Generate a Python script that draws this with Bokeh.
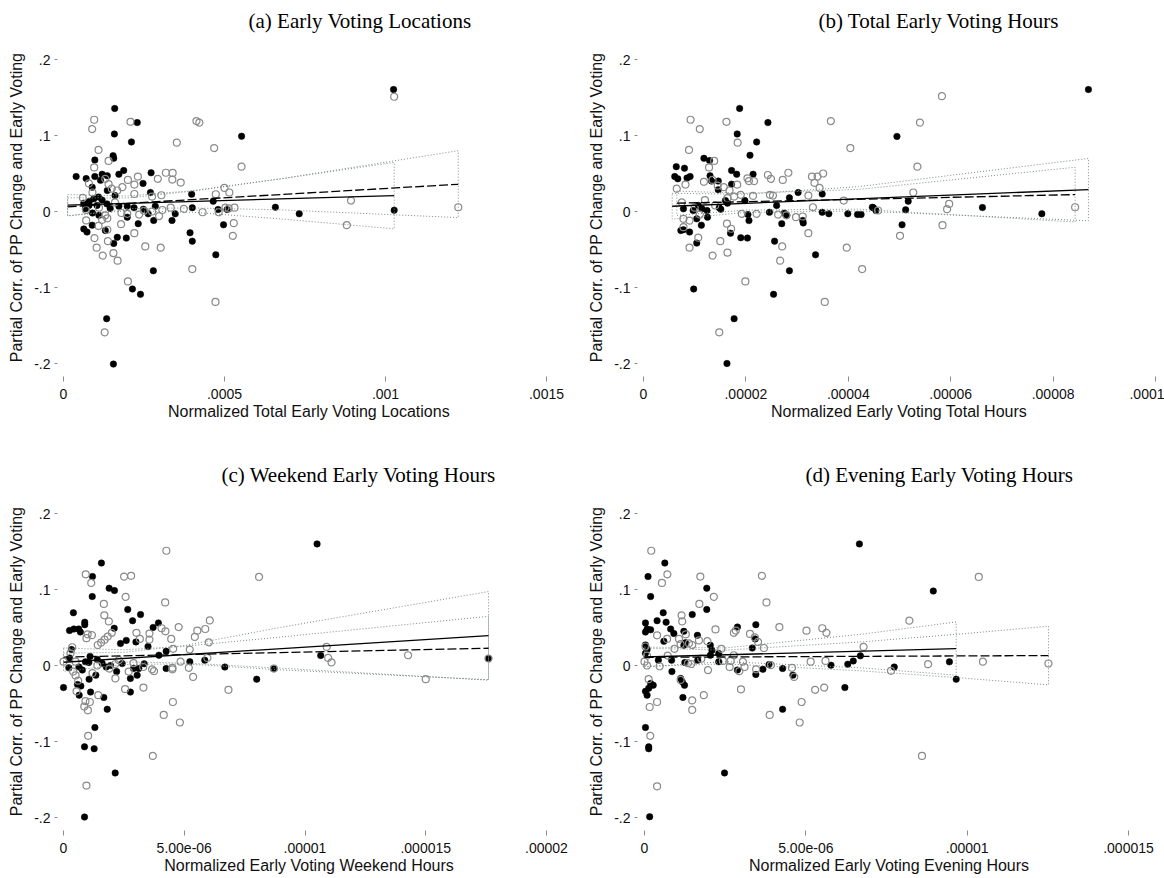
from bokeh.plotting import figure
from bokeh.layouts import column, row
from bokeh.models import FixedTicker, Range1d
from bokeh.embed import file_html
from bokeh.resources import INLINE

# ---------------- shared axis data ----------------
y_ticks = [-0.2, -0.1, 0.0, 0.1, 0.2]
y_tick_labels = ["-.2", "-.1", "0", ".1", ".2"]
y_title = "Partial Corr. of PP Change and Early Voting"

# ---------------- (a) Early Voting Locations ----------------
a_title = "(a) Early Voting Locations"
a_xlabel = "Normalized Total Early Voting Locations"
a_x_ticks = [0.0, 0.0005, 0.001, 0.0015]
a_x_tick_labels = ["0", ".0005", ".001", ".0015"]
a_black = [
    (0.000159, 0.1356), (0.000229, 0.117), (0.000158, 0.102), (0.000211, 0.0915),
    (0.000553, 0.099), (0.0000973, 0.0678), (0.000154, 0.0735), (0.000156, 0.070),
    (0.0000393, 0.046), (0.0000704, 0.0433), (0.0000973, 0.046), (0.0000891, 0.032),
    (0.000120, 0.049), (0.000136, 0.047), (0.000115, 0.041), (0.000172, 0.049),
    (0.000187, 0.054), (0.000247, 0.037), (0.000272, 0.051), (0.00027, 0.025),
    (0.000136, 0.0276), (0.000109, 0.019), (0.000094, 0.0167), (0.000398, 0.0227),
    (0.0004, 0.005), (0.000465, 0.0135), (0.00048, 0.0026), (0.000508, 0.0026),
    (0.000658, 0.0056), (0.000732, -0.003), (0.000063, 0.011), (0.000068, 0.0035),
    (0.000079, 0.0079), (0.000104, 0.008), (0.000135, 0.010), (0.000172, 0.007),
    (0.000198, 0.007), (0.000219, 0.005), (0.000248, 0.003), (0.000263, -0.003),
    (0.000285, 0.007), (0.00028, -0.0118), (0.000337, -0.0118), (0.000347, -0.003),
    (0.000198, -0.0075), (0.000232, -0.016), (0.0000891, -0.018), (0.000063, -0.023),
    (0.000073, -0.027), (0.00013, -0.025), (0.000167, -0.034), (0.000195, -0.035),
    (0.000156, -0.042), (0.000393, -0.028), (0.0004, -0.039), (0.000497, -0.0175),
    (0.000473, -0.057), (0.000279, -0.078), (0.000214, -0.102), (0.000239, -0.109),
    (0.000134, -0.141), (0.000155, -0.2008), (0.001025, 0.1605), (0.001027, 0.0017),
    (0.00008, 0.013), (0.00012, 0.015), (0.000145, 0.004), (0.00011, -0.005),
    (0.00009, -0.002), (0.00016, 0.021),
]
a_gray = [
    (0.0000953, 0.1207), (0.0000891, 0.1085), (0.000208, 0.118), (0.000413, 0.119),
    (0.000422, 0.117), (0.000352, 0.0906), (0.000468, 0.0835), (0.000109, 0.081),
    (0.00014, 0.0665), (0.000553, 0.059), (0.0000953, 0.058), (0.000231, 0.046),
    (0.000318, 0.051), (0.000339, 0.0508), (0.000338, 0.042), (0.000364, 0.038),
    (0.000293, 0.043), (0.0002, 0.0416), (0.000079, 0.037), (0.00013, 0.043),
    (0.00014, 0.036), (0.00015, 0.030), (0.000167, 0.0276), (0.000183, 0.032),
    (0.00022, 0.0354), (0.00022, 0.023), (0.000275, 0.0197), (0.000304, 0.0214),
    (0.0005, 0.031), (0.000515, 0.025), (0.000473, 0.0227), (0.000333, 0.005),
    (0.000374, 0.0035), (0.000503, 0.005), (0.000513, 0.004), (0.000531, 0.005),
    (0.000432, -0.001), (0.000482, -0.001), (0.000529, -0.0153), (0.000526, -0.032),
    (0.0000704, -0.0118), (0.00013, -0.005), (0.000136, -0.009), (0.000179, -0.0167),
    (0.000136, -0.024), (0.000109, -0.019), (0.00022, -0.0285), (0.0000963, -0.035),
    (0.000138, -0.039), (0.000103, -0.0476), (0.000122, -0.058), (0.000155, -0.0547),
    (0.000168, -0.0647), (0.000254, -0.046), (0.000302, -0.0476), (0.0004, -0.0757),
    (0.000472, -0.119), (0.0002, -0.092), (0.000128, -0.159), (0.000198, -0.003),
    (0.000235, -0.004), (0.00025, 0.001), (0.000275, 0.0), (0.000297, -0.006),
    (0.000307, 0.002), (0.001027, 0.151), (0.000893, 0.0144), (0.00088, -0.018),
    (0.001226, 0.0056), (0.00006, 0.018), (0.00007, 0.002), (0.00009, 0.025),
    (0.00011, 0.005), (0.00016, 0.012), (0.00018, -0.002), (0.00012, -0.011),
]
a_fit_black_x = [0.000013, 0.001027]
a_fit_black_y = [0.0084, 0.0209]
a_ci_black_x = [0.000013, 0.0002, 0.0004, 0.000674, 0.001027]
a_ci_black_hi = [0.0222, 0.0204, 0.0274, 0.0429, 0.0646]
a_ci_black_lo = [-0.0054, 0.0010, -0.0010, -0.0097, -0.0228]
a_fit_gray_x = [0.000013, 0.001226]
a_fit_gray_y = [0.0062, 0.0358]
a_ci_gray_x = [0.000013, 0.0002, 0.0004, 0.000674, 0.001226]
a_ci_gray_hi = [0.018, 0.0178, 0.0267, 0.043, 0.080]
a_ci_gray_lo = [-0.006, 0.0038, 0.0047, 0.0022, -0.008]

# ---------------- (b) Total Early Voting Hours ----------------
b_title = "(b) Total Early Voting Hours"
b_xlabel = "Normalized Early Voting Total Hours"
b_x_ticks = [0.0, 0.00002, 0.00004, 0.00006, 0.00008, 0.0001]
b_x_tick_labels = ["0", ".00002", ".00004", ".00006", ".00008", ".0001"]
b_black = [
    (1.877e-5, 0.1356), (2.43e-5, 0.117), (1.83e-5, 0.102), (2.21e-5, 0.0915),
    (2.08e-5, 0.074), (1.18e-5, 0.07), (1.29e-5, 0.067), (6.4e-6, 0.059),
    (8.0e-6, 0.057), (6.1e-6, 0.046), (6.7e-6, 0.043), (9.1e-6, 0.046),
    (8.5e-6, 0.044), (1.30e-5, 0.047), (1.46e-5, 0.040), (1.33e-5, 0.040),
    (1.72e-5, 0.054), (1.82e-5, 0.049), (1.72e-5, 0.036), (2.14e-5, 0.049),
    (1.46e-5, 0.0285), (1.98e-5, 0.0144), (1.6e-5, 0.0144), (1.64e-5, 0.011),
    (3.02e-5, 0.025), (3.49e-5, 0.023), (2.85e-5, 0.018), (2.6e-5, 0.0079),
    (3.49e-5, -0.001), (3.62e-5, -0.003), (3.99e-5, -0.003), (4.18e-5, -0.004),
    (4.25e-5, -0.004), (4.49e-5, 0.005), (1.07e-5, 0.008), (1.14e-5, 0.0035),
    (1.24e-5, 0.0013), (1.48e-5, 0.005), (1.51e-5, 0.003), (7.8e-6, 0.0035),
    (9.7e-6, 0.0013), (2.46e-5, -0.001), (2.75e-5, -0.0022), (2.8e-5, -0.005),
    (2.04e-5, -0.004), (2.06e-5, -0.012), (1.25e-5, -0.0075), (1.13e-5, -0.018),
    (1.04e-5, -0.0096), (3.11e-5, -0.0118), (3.12e-5, -0.015), (2.7e-5, -0.016),
    (7.3e-6, -0.025), (7.8e-6, -0.024), (9.0e-6, -0.027), (1.7e-5, -0.0285),
    (1.9e-5, -0.0345), (2.03e-5, -0.035), (1.04e-5, -0.0416), (2.56e-5, -0.039),
    (3.36e-5, -0.057), (2.85e-5, -0.078), (9.8e-6, -0.102), (2.54e-5, -0.109),
    (1.77e-5, -0.141), (1.63e-5, -0.2), (8.69e-5, 0.1605), (4.95e-5, 0.0988),
    (5.17e-5, 0.0135), (4.47e-5, 0.0056), (4.54e-5, 0.0013), (5.12e-5, 0.0022),
    (5.05e-5, -0.0175), (6.62e-5, 0.0052), (7.78e-5, -0.003),
]
b_gray = [
    (9.2e-6, 0.1207), (1.1e-5, 0.1085), (1.62e-5, 0.118), (3.66e-5, 0.119),
    (4.04e-5, 0.0835), (1.84e-5, 0.0906), (8.9e-6, 0.081), (1.38e-5, 0.0665),
    (1.28e-5, 0.058), (8.2e-6, 0.0354), (1.18e-5, 0.039), (1.35e-5, 0.0416),
    (1.45e-5, 0.034), (1.57e-5, 0.032), (1.68e-5, 0.0276), (1.83e-5, 0.0354),
    (2.03e-5, 0.0437), (2.06e-5, 0.040), (2.16e-5, 0.040), (2.43e-5, 0.048),
    (2.49e-5, 0.043), (2.72e-5, 0.0416), (2.83e-5, 0.051), (3.29e-5, 0.046),
    (3.40e-5, 0.046), (3.51e-5, 0.050), (3.34e-5, 0.0377), (3.44e-5, 0.031),
    (3.22e-5, 0.021), (3.91e-5, 0.0144), (1.90e-5, 0.022), (1.77e-5, 0.0197),
    (1.64e-5, 0.0175), (2.14e-5, 0.0206), (2.47e-5, 0.022), (2.53e-5, 0.021),
    (3.31e-5, 0.0056), (2.63e-5, -0.004), (2.79e-5, -0.005), (2.98e-5, -0.0075),
    (3.11e-5, -0.0066), (1.92e-5, -0.003), (2.21e-5, -0.003), (7.8e-6, -0.0096),
    (9.0e-6, -0.012), (7.8e-6, -0.0206), (1.07e-5, -0.0345), (9.0e-6, -0.0476),
    (1.5e-5, -0.039), (1.64e-5, -0.054), (1.35e-5, -0.058), (1.63e-5, -0.016),
    (1.71e-5, -0.0227), (2.71e-5, -0.046), (2.67e-5, -0.0647), (3.22e-5, -0.0285),
    (3.97e-5, -0.0476), (4.27e-5, -0.0757), (1.99e-5, -0.092), (3.54e-5, -0.119),
    (1.48e-5, -0.159), (5.83e-5, 0.1518), (5.4e-5, 0.117), (5.35e-5, 0.059),
    (5.27e-5, 0.025), (5.97e-5, 0.010), (5.93e-5, 0.003), (5.84e-5, -0.018),
    (5.01e-5, -0.032), (4.58e-5, 0.0013), (8.43e-5, 0.0056), (6.5e-6, 0.03),
    (7.5e-6, 0.012), (1.0e-5, 0.005), (1.2e-5, 0.015), (1.4e-5, 0.008),
    (1.1e-5, -0.004),
]
b_fit_black_x = [5.6e-6, 8.69e-5]
b_fit_black_y = [0.0069, 0.0288]
b_ci_black_x = [5.6e-6, 2e-5, 4.2e-5, 8.69e-5]
b_ci_black_hi = [0.0239, 0.0228, 0.0327, 0.0698]
b_ci_black_lo = [-0.0101, -0.0012, 0.0007, -0.0122]
b_fit_gray_x = [6.5e-6, 8.43e-5]
b_fit_gray_y = [0.0109, 0.0222]
b_ci_gray_x = [6.5e-6, 2e-5, 4.2e-5, 8.43e-5]
b_ci_gray_hi = [0.0269, 0.0239, 0.0291, 0.0582]
b_ci_gray_lo = [-0.0051, 0.0019, 0.0031, -0.0138]

# ---------------- (c) Weekend Early Voting Hours ----------------
c_title = "(c) Weekend Early Voting Hours"
c_xlabel = "Normalized Early Voting Weekend Hours"
c_x_ticks = [0.0, 0.000005, 0.00001, 0.000015, 0.00002]
c_x_tick_labels = ["0", "5.00e-06", ".00001", ".000015", ".00002"]
c_black = [
    (1.57e-6, 0.1348), (1.2e-6, 0.117), (1.89e-6, 0.1017), (2.11e-6, 0.0986),
    (1.19e-6, 0.0907), (2.66e-6, 0.0737), (2.86e-6, 0.0589), (3.19e-6, 0.067),
    (4.1e-7, 0.0694), (8.8e-7, 0.057), (8.8e-7, 0.0537), (2.5e-7, 0.046),
    (4.3e-7, 0.048), (6.3e-7, 0.048), (7.0e-7, 0.044), (2.1e-6, 0.049),
    (3.71e-6, 0.050), (3.93e-6, 0.056), (4.25e-6, 0.0187), (2.36e-6, 0.029),
    (2.6e-6, 0.033), (3.0e-6, 0.031), (3.5e-6, 0.025), (3.95e-6, 0.0135),
    (3.3e-7, 0.021), (9.1e-7, 0.0048), (1.05e-6, 0.004), (2.2e-7, -0.003),
    (6.4e-7, -0.002), (7.8e-7, -0.006), (1.77e-6, -0.002), (1.95e-6, 0.0),
    (2.43e-6, 0.0026), (2.9e-6, -0.004), (3.12e-6, -0.004), (3.34e-6, 0.0022),
    (4.25e-6, -0.004), (5.23e-6, 0.005), (5.85e-6, 0.007), (6.68e-6, -0.002),
    (8.0e-6, -0.018), (0.0, -0.029), (5.8e-7, -0.025), (7.2e-7, -0.027),
    (1.06e-6, -0.018), (1.34e-6, -0.0127), (2.2e-6, -0.008), (2.77e-6, -0.017),
    (3.05e-6, -0.0127), (1.12e-6, -0.035), (1.67e-6, -0.042), (6.5e-7, -0.039),
    (2.77e-6, -0.035), (1.81e-6, -0.0576), (1.3e-6, -0.0816), (8.7e-7, -0.107),
    (1.27e-6, -0.1095), (2.14e-6, -0.1414), (8.7e-7, -0.1994), (1.05e-5, 0.160),
    (1.065e-5, 0.0131), (1.76e-5, 0.0092), (8.71e-6, -0.004), (1.4e-6, 0.008),
    (1.1e-6, 0.012), (1.6e-6, 0.003), (2.5e-7, 0.01),
]
c_gray = [
    (4.26e-6, 0.151), (8.1e-6, 0.1165), (9.2e-7, 0.120), (1.15e-6, 0.1086),
    (2.51e-6, 0.117), (2.8e-6, 0.118), (2.57e-6, 0.0903), (4.21e-6, 0.083),
    (1.67e-6, 0.081), (1.69e-6, 0.066), (1.88e-6, 0.058), (6.06e-6, 0.0593),
    (5.87e-6, 0.048), (5.54e-6, 0.0458), (5.44e-6, 0.0376), (4.77e-6, 0.0506),
    (4.06e-6, 0.049), (4.22e-6, 0.045), (4.46e-6, 0.035), (6.02e-6, 0.0305),
    (4.54e-6, 0.022), (5.23e-6, 0.021), (3.02e-6, 0.043), (3.16e-6, 0.035),
    (3.56e-6, 0.042), (3.56e-6, 0.034), (2.0e-6, 0.043), (1.83e-6, 0.038),
    (1.7e-6, 0.034), (1.56e-6, 0.030), (1.42e-6, 0.027), (1.18e-6, 0.040),
    (1.0e-6, 0.041), (9.5e-7, 0.036), (5.96e-6, 0.010), (4.85e-6, 0.005),
    (4.51e-6, -0.003), (4.51e-6, -0.005), (5.19e-6, -0.003), (3.67e-6, -0.005),
    (3.75e-6, -0.0075), (5.37e-6, -0.015), (6.83e-6, -0.032), (3.31e-6, -0.029),
    (2.55e-6, -0.031), (2.15e-6, -0.017), (2.7e-6, -0.008), (4.53e-6, -0.048),
    (4.15e-6, -0.065), (4.82e-6, -0.075), (1.44e-6, -0.039), (9.1e-7, -0.047),
    (1.09e-6, -0.048), (8.6e-7, -0.054), (1.01e-6, -0.059), (5.4e-7, -0.034),
    (6.1e-7, -0.020), (1.02e-6, -0.0925), (3.7e-6, -0.119), (9.5e-7, -0.158),
    (0.0, 0.005), (2.9e-7, 0.016), (3.6e-7, 0.024), (5e-7, 0.005),
    (4e-7, -0.008), (5e-7, -0.013), (1.2e-6, -0.01), (1.4e-6, 0.0),
    (1.9e-6, -0.004), (2.15e-6, 0.002), (2.3e-6, 0.007), (2.9e-6, 0.003),
    (3.3e-6, -0.002), (8.71e-6, -0.004), (1.09e-5, 0.0245), (1.096e-5, 0.010),
    (1.11e-5, 0.004), (1.427e-5, 0.0135), (1.5e-5, -0.018), (1.76e-5, 0.0092),
]
c_fit_black_x = [0.0, 1.76e-5]
c_fit_black_y = [0.0043, 0.0393]
c_ci_black_x = [0.0, 2.5e-6, 5e-6, 9e-6, 1.76e-5]
c_ci_black_hi = [0.0163, 0.0173, 0.0262, 0.0502, 0.0973]
c_ci_black_lo = [-0.0077, 0.0013, 0.0022, -0.0058, -0.0187]
c_fit_gray_x = [0.0, 1.76e-5]
c_fit_gray_y = [0.011, 0.0227]
c_ci_gray_x = [0.0, 2.5e-6, 5e-6, 9e-6, 1.76e-5]
c_ci_gray_hi = [0.023, 0.0207, 0.0253, 0.0375, 0.0647]
c_ci_gray_lo = [-0.001, 0.0047, 0.0033, -0.0035, -0.0193]

# ---------------- (d) Evening Early Voting Hours ----------------
d_title = "(d) Evening Early Voting Hours"
d_xlabel = "Normalized Early Voting Evening Hours"
d_x_ticks = [0.0, 0.000005, 0.00001, 0.000015]
d_x_tick_labels = ["0", "5.00e-06", ".00001", ".000015"]
d_black = [
    (6.66e-6, 0.160), (6.3e-7, 0.1348), (1.1e-7, 0.117), (1.93e-6, 0.1017),
    (1.9e-7, 0.0907), (1.93e-6, 0.0737), (5.8e-7, 0.0694), (1.48e-6, 0.067),
    (3.9e-7, 0.059), (6.7e-7, 0.057), (3e-8, 0.056), (8e-8, 0.048),
    (1.9e-7, 0.047), (3e-8, 0.044), (8.1e-7, 0.048), (9.1e-7, 0.042),
    (1.22e-6, 0.045), (1.22e-6, 0.0266), (1.27e-6, 0.030), (1.64e-6, 0.0397),
    (6.0e-7, 0.0318), (3e-8, 0.027), (8e-8, 0.021), (3e-8, 0.016),
    (2.88e-6, 0.0506), (3.45e-6, 0.0537), (3.43e-6, 0.035), (3.34e-6, 0.023),
    (2.04e-6, 0.0266), (2.09e-6, 0.020), (2.3e-6, 0.0157), (2.04e-6, 0.0135),
    (4.3e-7, 0.007), (8.4e-7, 0.007), (1.25e-6, 0.004), (1.65e-6, 0.007),
    (2.3e-6, 0.005), (3.86e-6, 0.0013), (3.67e-6, -0.005), (3.45e-6, -0.0118),
    (4.28e-6, -0.004), (4.6e-6, -0.0127), (2.88e-6, -0.006), (5.78e-6, 0.0004),
    (6.3e-6, 0.0017), (6.47e-6, 0.006), (6.69e-6, 0.0127), (6.21e-6, -0.029),
    (4.28e-6, -0.0576), (8.5e-7, -0.008), (1.12e-6, -0.017), (1.17e-6, -0.0214),
    (1.24e-6, -0.026), (1.9e-7, -0.0236), (2.7e-7, -0.026), (1.3e-7, -0.030),
    (3e-8, -0.034), (8e-8, -0.039), (1.19e-6, -0.042), (3e-8, -0.0816),
    (1.3e-7, -0.107), (1.3e-7, -0.1095), (2.48e-6, -0.1414), (1.6e-7, -0.199),
    (8.95e-6, 0.098), (7.74e-6, -0.002), (9.45e-6, 0.0048), (9.66e-6, -0.018),
]
d_gray = [
    (2.1e-7, 0.151), (7.1e-7, 0.120), (5.4e-7, 0.1086), (1.73e-6, 0.117),
    (3.64e-6, 0.118), (2.15e-6, 0.0903), (3.78e-6, 0.083), (1.7e-6, 0.081),
    (1.15e-6, 0.066), (1.17e-6, 0.058), (2.2e-6, 0.0475), (3.9e-7, 0.0397),
    (7.0e-7, 0.035), (1.28e-6, 0.041), (1.07e-6, 0.035), (1.12e-6, 0.028),
    (1.38e-6, 0.029), (1.48e-6, 0.027), (1.69e-6, 0.033), (1.95e-6, 0.032),
    (2.77e-6, 0.043), (2.83e-6, 0.046), (3.27e-6, 0.0415), (3.42e-6, 0.037),
    (3.52e-6, 0.031), (3.7e-6, 0.023), (4.18e-6, 0.0506), (5.02e-6, 0.0458),
    (5.51e-6, 0.049), (5.64e-6, 0.043), (6.79e-6, 0.0245), (5.15e-6, 0.005),
    (5.61e-6, 0.006), (2.77e-6, 0.0135), (3.05e-6, 0.005), (2.64e-6, -0.002),
    (2.94e-6, -0.0075), (3.46e-6, -0.005), (4.57e-6, -0.003), (4.64e-6, -0.015),
    (3.92e-6, 0.0004), (5.29e-6, -0.032), (5.57e-6, -0.029), (4.87e-6, -0.048),
    (3.88e-6, -0.065), (4.81e-6, -0.075), (2.99e-6, -0.0314), (1.84e-6, -0.039),
    (1.48e-6, -0.046), (1.48e-6, -0.0585), (1.12e-6, -0.019), (3.9e-7, -0.048),
    (1.6e-7, -0.0546), (1.8e-7, -0.0925), (3.9e-7, -0.159), (1.3e-7, -0.018),
    (0.0, 0.005), (8e-8, 0.0), (3e-8, 0.025), (8e-8, 0.013),
    (4.7e-7, -0.001), (7.2e-7, 0.013), (9.3e-7, 0.022), (1.35e-6, 0.003),
    (1.45e-6, 0.002), (1.76e-6, 0.009), (1.97e-6, -0.006), (2.38e-6, 0.022),
    (2.43e-6, 0.006), (2.67e-6, 0.006), (3.1e-6, -0.002), (8.21e-6, 0.059),
    (8.79e-6, 0.0017), (7.64e-6, -0.007), (1.049e-5, 0.005), (1.252e-5, 0.0026),
    (1.036e-5, 0.1165), (8.6e-6, -0.119),
]
d_fit_black_x = [0.0, 9.66e-6]
d_fit_black_y = [0.0112, 0.0223]
d_ci_black_x = [0.0, 2.5e-6, 6.7e-6, 9.66e-6]
d_ci_black_hi = [0.0242, 0.0231, 0.041, 0.0573]
d_ci_black_lo = [-0.0018, 0.0051, -0.003, -0.0127]
d_fit_gray_x = [0.0, 1.252e-5]
d_fit_gray_y = [0.0108, 0.0131]
d_ci_gray_x = [0.0, 2.5e-6, 6.7e-6, 9.84e-6, 1.252e-5]
d_ci_gray_hi = [0.0228, 0.0202, 0.031, 0.0416, 0.0517]
d_ci_gray_lo = [-0.0012, 0.0022, -0.007, -0.0164, -0.0255]


# ---------------- drawing ----------------
SANS = "Liberation Sans"
SERIF = "Liberation Serif"
GRAY = "#8a8a8a"
FRAME_TOP, FRAME_BOTTOM, FRAME_LEFT = 38, 376, 57


def span(v0, p0, v1, p1, lo_px, hi_px):
    """Value range covered by pixels lo_px..hi_px given two anchor ticks."""
    k = (v1 - v0) / (p1 - p0)
    return v0 + (lo_px - p0) * k, v0 + (hi_px - p0) * k


def panel(title, title_offset, xlabel, xt, xtl, x_px, black, gray, fits,
          width, height, right_border):
    frame_right = width - right_border
    x0, x1 = span(xt[0], x_px[0], xt[-1], x_px[1], FRAME_LEFT, frame_right)
    ytop, ybot = span(0.2, 59, -0.2, 363, FRAME_TOP, FRAME_BOTTOM)

    p = figure(width=width, height=height, output_backend="svg",
               toolbar_location=None, x_range=Range1d(x0, x1),
               y_range=Range1d(ybot, ytop), title=title,
               min_border_left=FRAME_LEFT, min_border_right=right_border,
               min_border_top=FRAME_TOP,
               min_border_bottom=height - FRAME_BOTTOM)
    p.outline_line_color = None
    p.grid.visible = False
    p.background_fill_color = "white"
    p.border_fill_color = "white"

    # panel caption
    p.title.align = "left"
    p.title.offset = title_offset
    p.title.standoff = 12
    p.title.text_font = SERIF
    p.title.text_font_size = "21px"
    p.title.text_font_style = "normal"
    p.title.text_color = "black"

    # axes
    p.xaxis.ticker = FixedTicker(ticks=xt)
    p.xaxis.major_label_overrides = dict(zip(xt, xtl))
    p.yaxis.ticker = FixedTicker(ticks=y_ticks)
    p.yaxis.major_label_overrides = dict(zip(y_ticks, y_tick_labels))
    for ax in (p.xaxis, p.yaxis):
        ax.axis_line_color = None
        ax.minor_tick_line_color = None
        ax.major_tick_line_color = "#8c8c8c"
        ax.major_tick_in = 0
        ax.major_label_text_font = SANS
        ax.major_label_text_font_size = "14px"
        ax.major_label_text_color = "#111111"
        ax.axis_label_text_font = SANS
        ax.axis_label_text_font_size = "16px"
        ax.axis_label_text_font_style = "normal"
        ax.axis_label_text_color = "#111111"
    p.xaxis.major_tick_out = 5
    p.xaxis.major_label_standoff = 7
    p.xaxis.axis_label_standoff = 1
    p.xaxis.axis_label = xlabel
    p.yaxis.major_tick_out = 3
    p.yaxis.major_label_standoff = 4
    p.yaxis.axis_label_standoff = 6
    p.yaxis.axis_label = y_title

    # scatter
    bx, by = zip(*black)
    gx, gy = zip(*gray)
    p.scatter(list(bx), list(by), size=6.5, fill_color="black",
              line_color="black", line_width=0.5)
    p.scatter(list(gx), list(gy), size=7, fill_color=None,
              line_color=GRAY, line_width=1.2)

    # confidence bands and fitted lines
    for (fx, fy, cx, chi, clo, dash) in fits:
        p.patch(list(cx) + list(cx)[::-1], list(chi) + list(clo)[::-1],
                fill_alpha=0, line_color="#7d8a8a", line_width=1,
                line_dash="1 2")
    for (fx, fy, cx, chi, clo, dash) in fits:
        p.line(fx, fy, line_color="black", line_width=1.3, line_dash=dash)
    return p


TOP_H, BOT_H = 454, 424
LEFT_W, RIGHT_W = 580, 584

pa = panel(a_title, 191, a_xlabel, a_x_ticks, a_x_tick_labels, (63, 546),
           a_black, a_gray,
           [(a_fit_black_x, a_fit_black_y, a_ci_black_x, a_ci_black_hi, a_ci_black_lo, "solid"),
            (a_fit_gray_x, a_fit_gray_y, a_ci_gray_x, a_ci_gray_hi, a_ci_gray_lo, "9 3")],
           LEFT_W, TOP_H, 20)
pb = panel(b_title, 181, b_xlabel, b_x_ticks, b_x_tick_labels, (63, 575),
           b_black, b_gray,
           [(b_fit_black_x, b_fit_black_y, b_ci_black_x, b_ci_black_hi, b_ci_black_lo, "solid"),
            (b_fit_gray_x, b_fit_gray_y, b_ci_gray_x, b_ci_gray_hi, b_ci_gray_lo, "9 3")],
           RIGHT_W, TOP_H, 4)
pc = panel(c_title, 164, c_xlabel, c_x_ticks, c_x_tick_labels, (63, 546),
           c_black, c_gray,
           [(c_fit_black_x, c_fit_black_y, c_ci_black_x, c_ci_black_hi, c_ci_black_lo, "solid"),
            (c_fit_gray_x, c_fit_gray_y, c_ci_gray_x, c_ci_gray_hi, c_ci_gray_lo, "9 3")],
           LEFT_W, BOT_H, 20)
pd_ = panel(d_title, 168, d_xlabel, d_x_ticks, d_x_tick_labels, (64, 548),
            d_black, d_gray,
            [(d_fit_black_x, d_fit_black_y, d_ci_black_x, d_ci_black_hi, d_ci_black_lo, "solid"),
             (d_fit_gray_x, d_fit_gray_y, d_ci_gray_x, d_ci_gray_hi, d_ci_gray_lo, "9 3")],
            RIGHT_W, BOT_H, 24)

layout = column(row(pa, pb), row(pc, pd_))
open("out.html", "w").write(file_html(layout, INLINE))
